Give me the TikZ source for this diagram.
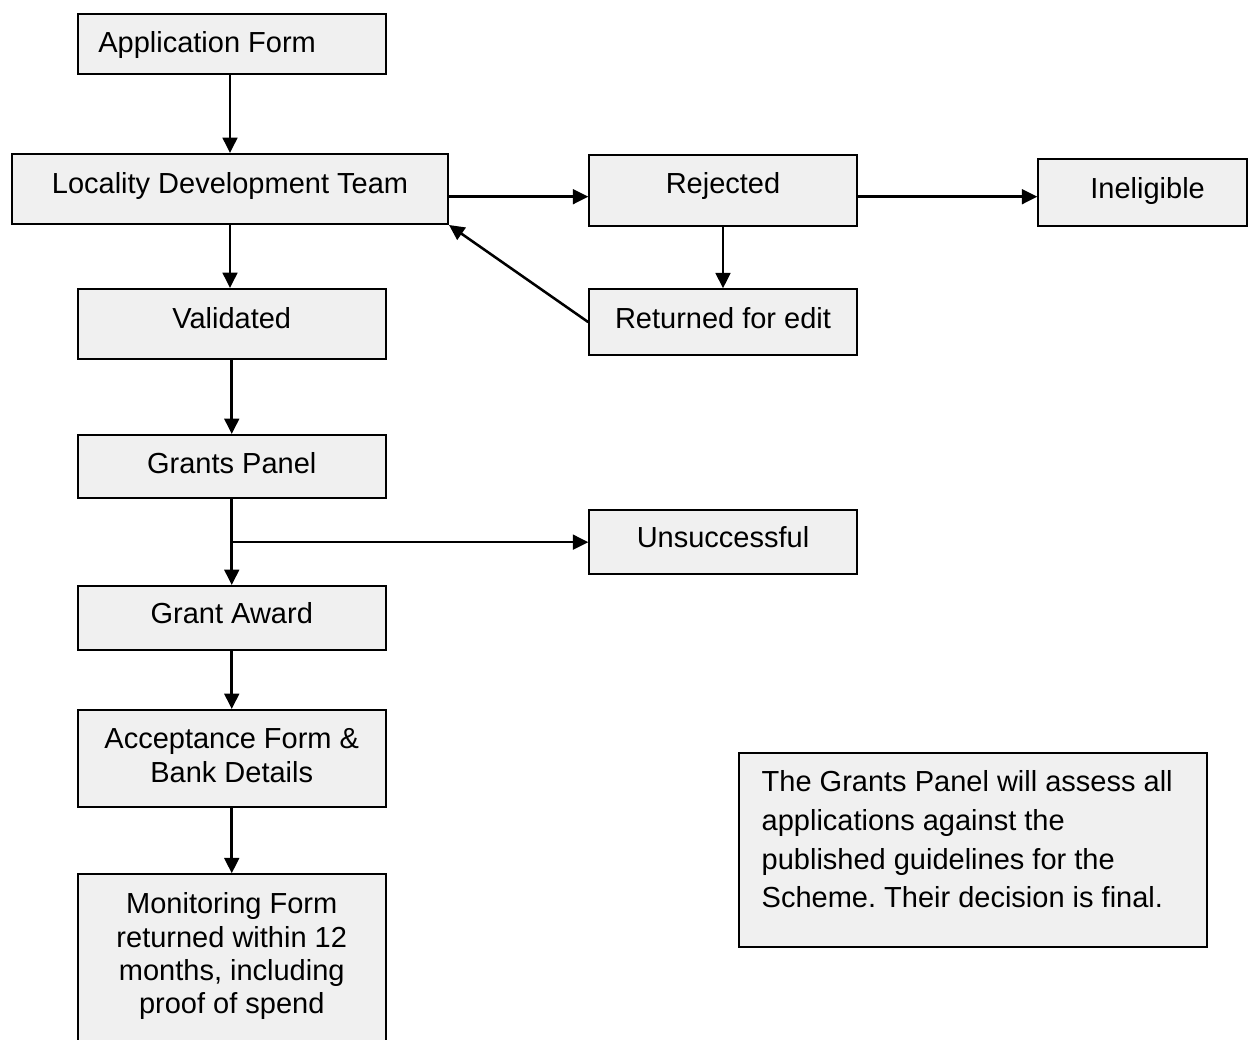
\documentclass[tikz,border=0pt]{standalone}
\usepackage{fontspec}
\setmainfont{Liberation Sans}
\usetikzlibrary{arrows.meta}
\frenchspacing
\newdimen\px \px=0.75pt
\newcommand\boxfont{\fontsize{21.75pt}{25.1pt}\selectfont}
\newcommand\notefont{\fontsize{21.75pt}{29.1pt}\selectfont}
\definecolor{boxgray}{HTML}{F0F0F0}
\tikzset{
  flowbox/.style={draw=black, fill=boxgray, line width=1.5pt, inner xsep=0pt, inner ysep=0pt, font=\boxfont},
  flowarrow/.style={line width=1.9pt, -{Triangle[length=11.5pt,width=11pt]}}
}
\begin{document}
\begin{tikzpicture}[x=0.75pt, y=-0.75pt]
\useasboundingbox (0,0) rectangle (1248,1039);

\node[flowbox, inner xsep=15.2pt] (app) at (232,44)
  {\parbox[c][60\px][t]{267.4\px}{\raggedright\vspace*{14.8\px}\strut Application Form}};
\node[flowbox] (ldt) at (230,189)
  {\parbox[c][70\px][t]{436\px}{\centering\vspace*{16.5\px}\strut Locality Development Team}};
\node[flowbox] (rej) at (723,190.35)
  {\parbox[c][70.7\px][t]{267.4\px}{\centering\vspace*{15.1\px}\strut Rejected}};
\node[flowbox] (inel) at (1142.65,192.35)
  {\parbox[c][66.7\px][t]{208.7\px}{\centering\vspace*{15.6\px}\strut\hspace*{10\px}Ineligible}};
\node[flowbox] (val) at (231.75,324.15)
  {\parbox[c][70.3\px][t]{308.5\px}{\centering\vspace*{15.8\px}\strut Validated}};
\node[flowbox] (ret) at (723,322.15)
  {\parbox[c][65.7\px][t]{267.4\px}{\centering\vspace*{15.8\px}\strut Returned for edit}};
\node[flowbox] (gp) at (231.75,466.35)
  {\parbox[c][62.7\px][t]{308.5\px}{\centering\vspace*{15.1\px}\strut Grants Panel}};
\node[flowbox] (uns) at (723,542.15)
  {\parbox[c][64.3\px][t]{267.4\px}{\centering\vspace*{13.8\px}\strut Unsuccessful}};
\node[flowbox] (ga) at (231.75,618)
  {\parbox[c][64\px][t]{308.5\px}{\centering\vspace*{14.5\px}\strut Grant Award}};
\node[flowbox] (acc) at (231.75,758.35)
  {\parbox[c][96.7\px][t]{308.5\px}{\centering\vspace*{15.1\px}\strut Acceptance Form \&\\ Bank Details}};
\node[flowbox] (mon) at (231.75,977.15)
  {\parbox[c][205.7\px][t]{308.5\px}{\centering\vspace*{15.8\px}\strut Monitoring Form\\ returned within 12\\ months, including\\ proof of spend}};
\node[flowbox, inner xsep=17pt, font=\notefont] (note) at (972.85,850)
  {\parbox[c][193.4\px][t]{422.3\px}{\raggedright\vspace*{11\px}\strut The Grants Panel will assess all\\ applications against the\\ published guidelines for the\\ Scheme. Their decision is final.}};

\coordinate (hline) at (0,196.7);
\draw[flowarrow] (app.south -| ldt.north) -- (ldt.north);
\draw[flowarrow] (ldt.east |- hline) -- (rej.west |- hline);
\draw[flowarrow] (rej.east |- hline) -- (inel.west |- hline);
\draw[flowarrow] (rej.south) -- (ret.north);
\draw[flowarrow] (ret.west) -- (ldt.south east);
\draw[flowarrow] (ldt.south) -- (val.north -| ldt.south);
\draw[flowarrow] (val.south) -- (gp.north);
\draw[flowarrow] (gp.south) -- (ga.north);
\draw[flowarrow] (gp.south |- uns.west) -- (uns.west);
\draw[flowarrow] (ga.south) -- (acc.north);
\draw[flowarrow] (acc.south) -- (mon.north);
\end{tikzpicture}
\end{document}
